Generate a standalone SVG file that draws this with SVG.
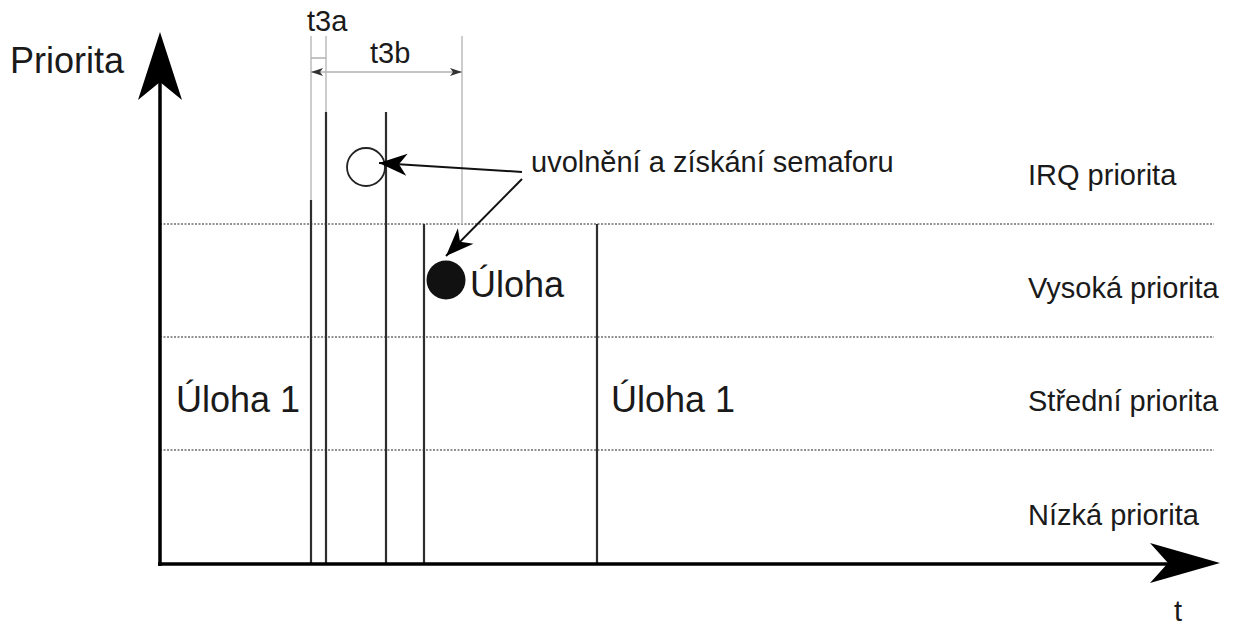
<svg xmlns="http://www.w3.org/2000/svg" width="1240" height="628" viewBox="0 0 1240 628">
  <style>
    text { font-family: "Liberation Sans", Arial, sans-serif; fill: #1a1a1a; }
    .big { font-size: 36px; }
    .lbl { font-size: 29px; }
    .axis { stroke: #000; stroke-width: 3.5; fill: none; }
    .level { stroke: #6e6e6e; stroke-width: 1.5; stroke-dasharray: 2 1.5; fill: none; }
    .bar { stroke: #2e2e2e; stroke-width: 2.2; fill: none; }
    .ext { stroke: #bdbdbd; stroke-width: 1.5; fill: none; }
    .dim { stroke: #b0b0b0; stroke-width: 1.5; fill: none; }
    .pointer { stroke: #111; stroke-width: 2; fill: none; }
  </style>
  <defs>
    <marker id="notchHead" markerUnits="userSpaceOnUse" markerWidth="40" markerHeight="30" refX="0" refY="0" viewBox="-30 -15 40 30" orient="auto">
      <path d="M0,0 L-28,-11 L-20,0 L-28,11 Z" fill="#000"/>
    </marker>
    <marker id="dimHead" markerUnits="userSpaceOnUse" markerWidth="20" markerHeight="12" refX="0" refY="0" viewBox="-15 -6 20 12" orient="auto-start-reverse">
      <path d="M0,0 L-12,-4 L-9,0 L-12,4 Z" fill="#333"/>
    </marker>
  </defs>

  <!-- priority levels -->
  <g id="levels">
    <line class="level" x1="160" y1="224" x2="1214" y2="224"/>
    <line class="level" x1="160" y1="337" x2="1214" y2="337"/>
    <line class="level" x1="160" y1="450" x2="1214" y2="450"/>
  </g>

  <!-- time markers -->
  <g id="time-bars">
    <line class="ext" x1="311" y1="36" x2="311" y2="200"/>
    <line class="bar" x1="311" y1="200" x2="311" y2="564" stroke="#555"/>
    <line class="ext" x1="326" y1="36" x2="326" y2="112"/>
    <line class="bar" x1="326" y1="112" x2="326" y2="564"/>
    <line class="bar" x1="386" y1="112" x2="386" y2="564"/>
    <line class="ext" x1="462" y1="36" x2="462" y2="224"/>
    <line class="bar" x1="424" y1="224" x2="424" y2="564"/>
    <line class="bar" x1="597" y1="224" x2="597" y2="564"/>
  </g>

  <!-- dimensions -->
  <g id="dim-t3a">
    <line class="dim" x1="311" y1="58" x2="326" y2="58"/>
    <text class="lbl" x="307" y="31">t3a</text>
  </g>
  <g id="dim-t3b">
    <line class="dim" x1="311" y1="72" x2="462" y2="72" marker-start="url(#dimHead)" marker-end="url(#dimHead)"/>
    <text class="lbl" x="370" y="63">t3b</text>
  </g>

  <!-- axes -->
  <g id="axes">
    <line class="axis" x1="160" y1="566" x2="160" y2="80"/>
    <path d="M160,32 L138,100 L160,82 L182,100 Z" fill="#000"/>
    <line class="axis" x1="158" y1="564" x2="1170" y2="564"/>
    <path d="M1220,563 L1150,543 L1168,563 L1150,583 Z" fill="#000"/>
    <text class="big" x="10" y="73" font-size="37">Priorita</text>
    <text class="lbl" x="1174" y="621">t</text>
  </g>

  <!-- level labels -->
  <g id="level-labels">
    <text class="lbl" x="1028" y="185">IRQ priorita</text>
    <text class="lbl" x="1028" y="298">Vysoká priorita</text>
    <text class="lbl" x="1028" y="411">Střední priorita</text>
    <text class="lbl" x="1028" y="525">Nízká priorita</text>
  </g>

  <!-- tasks -->
  <g id="task1-a"><text class="big" x="176" y="412">Úloha 1</text></g>
  <g id="task1-b"><text class="big" x="611" y="412">Úloha 1</text></g>
  <g id="semaphore-release"><circle cx="366" cy="167" r="19" fill="#fff" stroke="#222" stroke-width="1.8"/></g>
  <g id="semaphore-acquire">
    <circle cx="446" cy="280" r="19.5" fill="#111"/>
    <text class="big" x="470" y="297">Úloha</text>
  </g>

  <!-- annotation -->
  <g id="note"><text class="lbl" x="531" y="172">uvolnění a získání semaforu</text></g>
  <g id="connectors">
    <line class="pointer" x1="522" y1="172" x2="379" y2="163" marker-end="url(#notchHead)"/>
    <line class="pointer" x1="522" y1="179" x2="446" y2="256" marker-end="url(#notchHead)"/>
  </g>
</svg>
